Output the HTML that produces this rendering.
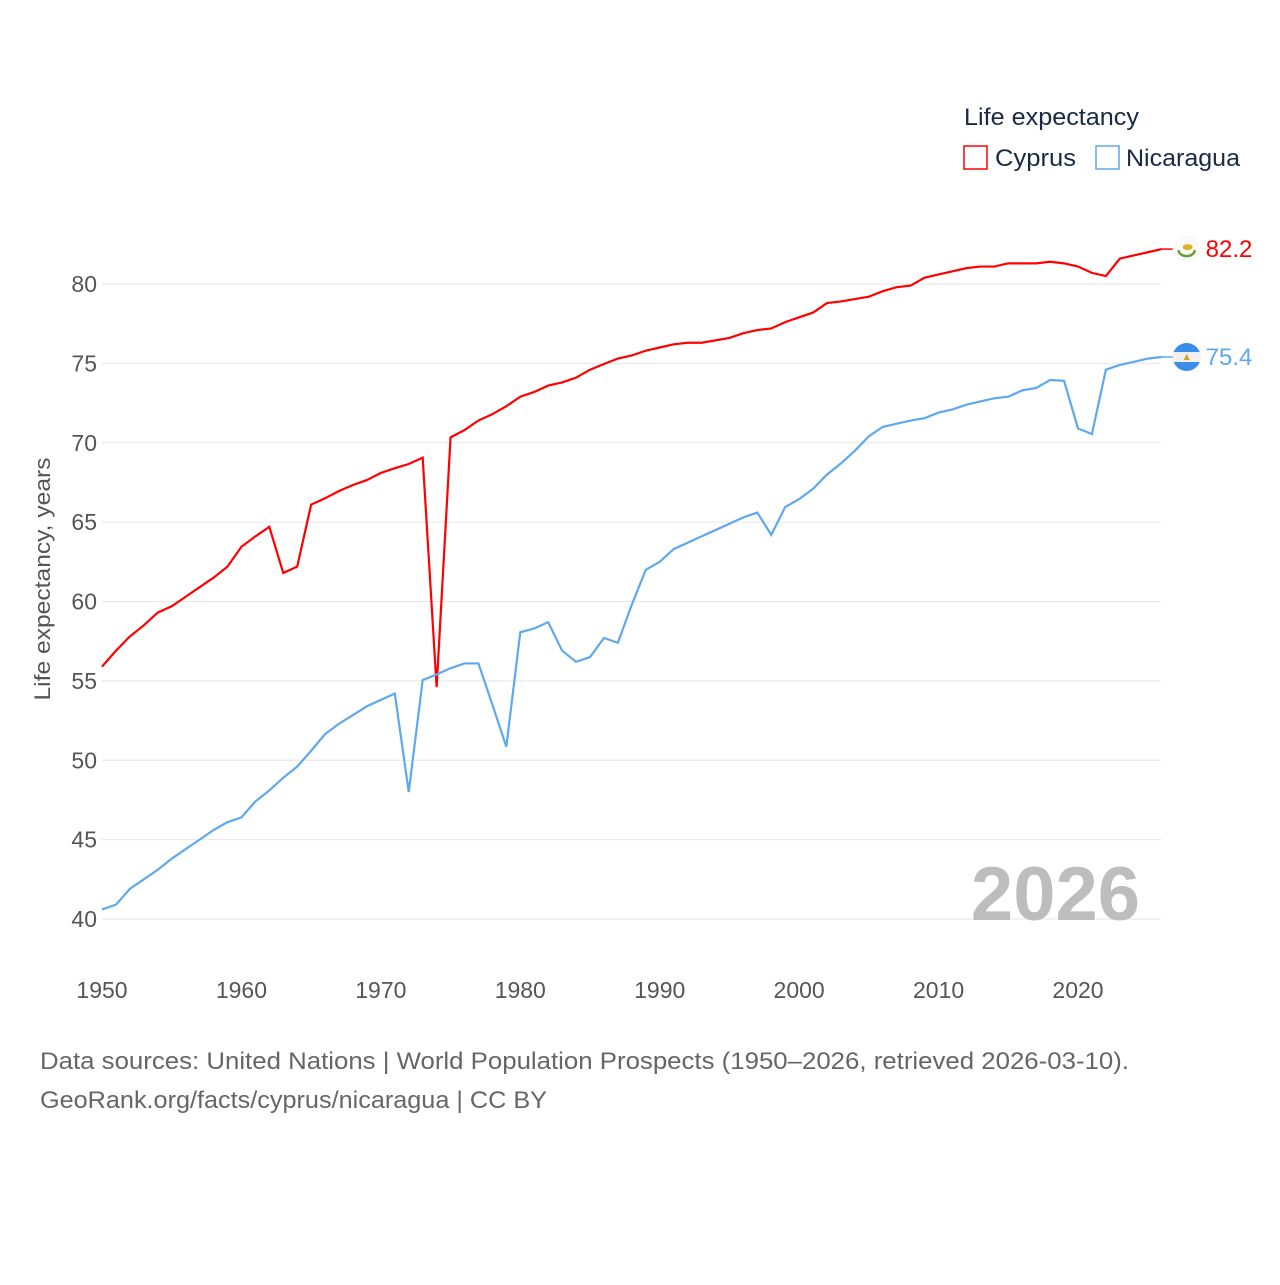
<!DOCTYPE html>
<html><head><meta charset="utf-8"><style>
body{margin:0;background:#fff;width:1280px;height:1280px;overflow:hidden;font-family:"Liberation Sans",sans-serif}
</style></head><body>
<svg id="chart" width="1280" height="1280" xmlns="http://www.w3.org/2000/svg" style="font-family:'Liberation Sans',sans-serif">
<g id="grid"></g>
<g id="yticks"></g>
<g id="xticks"></g>
<text transform="translate(50,579) rotate(-90)" text-anchor="middle" font-size="22" fill="#555" textLength="243" lengthAdjust="spacingAndGlyphs">Life expectancy, years</text>
<text x="1140" y="920" text-anchor="end" font-size="76" font-weight="bold" fill="#bdbdbd">2026</text>
<g id="series"></g>
<g>
<text x="964" y="125" font-size="24" fill="#1a2a44" textLength="175" lengthAdjust="spacingAndGlyphs">Life expectancy</text>
<rect x="964" y="146" width="23" height="23" fill="none" stroke="#ff0000" stroke-width="1.5"/>
<text x="995" y="166" font-size="24" fill="#1a2a44" textLength="81" lengthAdjust="spacingAndGlyphs">Cyprus</text>
<rect x="1096" y="146" width="23" height="23" fill="none" stroke="#5ea8ee" stroke-width="1.5"/>
<text x="1126" y="166" font-size="24" fill="#1a2a44" textLength="114" lengthAdjust="spacingAndGlyphs">Nicaragua</text>
</g>
<text x="40" y="1069" font-size="24" fill="#666" textLength="1089" lengthAdjust="spacingAndGlyphs">Data sources: United Nations | World Population Prospects (1950–2026, retrieved 2026-03-10).</text>
<text x="40" y="1108" font-size="24" fill="#666" textLength="507" lengthAdjust="spacingAndGlyphs">GeoRank.org/facts/cyprus/nicaragua | CC BY</text>
</svg>
<script>
const years = [];for(let y=1950;y<=2026;y++)years.push(y);
const cyprus = [55.9,56.9,57.8,58.5,59.3,59.7,60.3,60.9,61.5,62.2,63.45,64.1,64.7,61.8,62.2,66.1,66.5,66.96,67.34,67.65,68.1,68.4,68.66,69.06,54.6,70.34,70.8,71.4,71.8,72.3,72.9,73.2,73.6,73.8,74.1,74.6,74.96,75.3,75.5,75.8,76.0,76.2,76.3,76.3,76.45,76.6,76.9,77.1,77.2,77.6,77.9,78.2,78.8,78.9,79.05,79.2,79.55,79.8,79.9,80.4,80.6,80.8,81.0,81.1,81.1,81.3,81.3,81.3,81.4,81.3,81.1,80.7,80.5,81.6,81.8,82.0,82.2];
const nicaragua = [40.6,40.9,41.9,42.5,43.1,43.8,44.4,45.0,45.6,46.1,46.4,47.4,48.1,48.9,49.6,50.6,51.65,52.3,52.85,53.4,53.8,54.2,48.0,55.05,55.4,55.8,56.1,56.1,53.5,50.85,58.06,58.3,58.7,56.9,56.2,56.5,57.7,57.4,59.8,62.0,62.5,63.3,63.7,64.1,64.5,64.9,65.3,65.6,64.2,65.95,66.45,67.1,68.0,68.7,69.5,70.4,71.0,71.2,71.4,71.55,71.9,72.1,72.4,72.6,72.8,72.9,73.3,73.45,73.95,73.9,70.9,70.55,74.6,74.9,75.1,75.3,75.4];
const yTicks = [40,45,50,55,60,65,70,75,80];
const xTicks = [1950,1960,1970,1980,1990,2000,2010,2020];
const NS='http://www.w3.org/2000/svg';
const x = v => 102 + (v-1950)*(1078-102)/70;
const y = v => 919 - (v-40)*(919-284)/40;
function mk(tag,attrs,parent,text){const e=document.createElementNS(NS,tag);for(const k in attrs)e.setAttribute(k,attrs[k]);if(text!==undefined)e.textContent=text;parent.appendChild(e);return e;}
const grid=document.getElementById('grid'),yt=document.getElementById('yticks'),xt=document.getElementById('xticks'),ser=document.getElementById('series');
yTicks.forEach(t=>{
  const l=mk('line',{x1:102,x2:1161,y1:y(t),y2:y(t),stroke:'#e6e6e6','stroke-width':1},grid);
  
  
  const tx=mk('text',{x:97,y:y(t)+8,'text-anchor':'end','font-size':23,fill:'#555'},yt,String(t));
  
  
});
xTicks.forEach(t=>{
  const tx=mk('text',{x:x(t),y:998,'text-anchor':'middle','font-size':23,fill:'#555'},xt,String(t));
  
  
});
function line(vals,color,name){
  const p=mk('polyline',{points:vals.map((v,i)=>x(years[i])+','+y(v)).join(' '),fill:'none',stroke:color,'stroke-width':2.2,'stroke-linejoin':'miter'},ser);
  
  
}
line(cyprus,'#ff0000','cyprus-line');
line(nicaragua,'#5ea8ee','nicaragua-line');
const lc=cyprus[cyprus.length-1], ln=nicaragua[nicaragua.length-1], lx=x(2026);
const m1=mk('line',{x1:lx,x2:lx+12,y1:y(lc),y2:y(lc),stroke:'#ff0000','stroke-width':1.5},ser);


const f1=mk('circle',{cx:lx+25,cy:y(lc),r:14,fill:'#fafafa'},ser);


const f1b=mk('path',{d:`M${lx+17} ${y(lc)+1} a8 6 0 0 0 16 0`,fill:'none',stroke:'#6a9a3a','stroke-width':2.5},ser);


const f1c=mk('ellipse',{cx:lx+26,cy:y(lc)-2,rx:5,ry:3,fill:'#e0b020'},ser);


const v1=mk('text',{x:lx+44,y:y(lc)+8,'font-size':24,fill:'#ff0000'},ser,lc.toFixed(1));


const m2=mk('line',{x1:lx,x2:lx+12,y1:y(ln),y2:y(ln),stroke:'#5ea8ee','stroke-width':1.5},ser);


const cy2=y(ln);
const f2=mk('circle',{cx:lx+25,cy:cy2,r:14,fill:'#3a8ee8'},ser);


const f2b=mk('rect',{x:lx+11,y:cy2-5,width:28,height:10,fill:'#f0f0f0'},ser);


const f2c=mk('polygon',{points:`${lx+22},${cy2+3} ${lx+28},${cy2+3} ${lx+25},${cy2-3}`,fill:'#d4a017'},ser);


const v2=mk('text',{x:lx+44,y:cy2+8,'font-size':24,fill:'#5ea8ee'},ser,ln.toFixed(1));


</script>
</body></html>
